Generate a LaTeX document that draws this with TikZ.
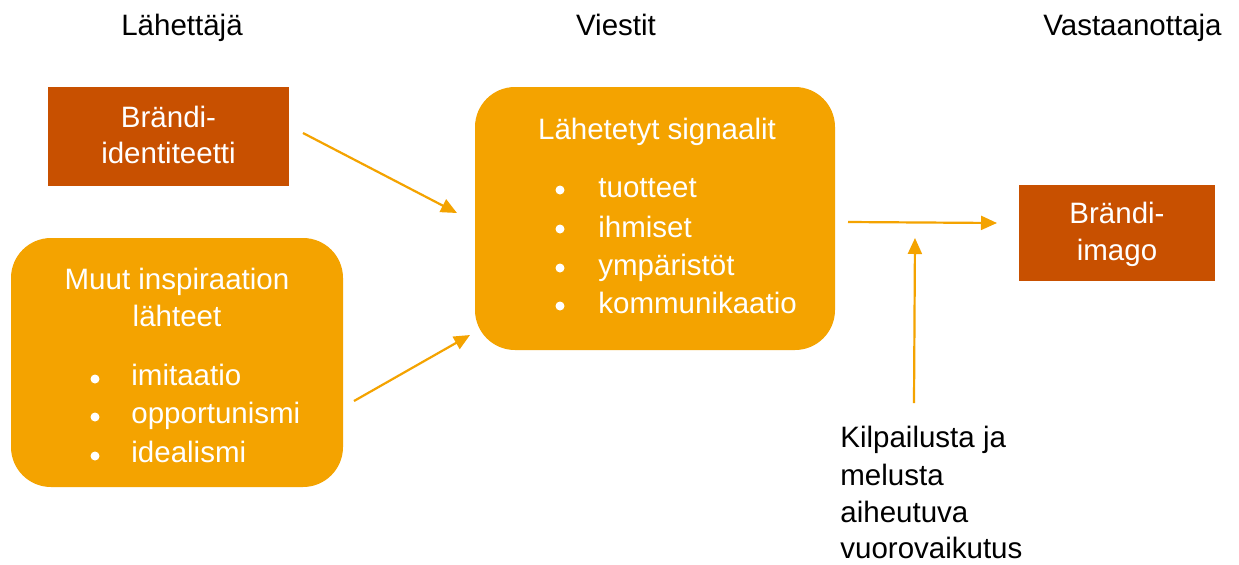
\documentclass[tikz,border=0pt]{standalone}
\usepackage{fontspec}
\setmainfont{Liberation Sans}
\usetikzlibrary{arrows.meta}
\definecolor{amber}{HTML}{F4A300}
\definecolor{rust}{HTML}{C85000}
\begin{document}
\begin{tikzpicture}[x=0.5pt,y=-0.5pt,
  every node/.style={font=\fontsize{14.75}{19}\selectfont, inner sep=0pt},
  rustbox/.style={fill=rust, draw=none, inner sep=0pt},
  amberbox/.style={fill=amber, draw=none, rounded corners=20pt},
  head/.style={anchor=base, text=black},
  wt/.style={anchor=base, text=white},
  wl/.style={anchor=base west, text=white},
  bl/.style={anchor=base west, text=black},
  dot/.style={circle, fill=white, minimum size=4.5pt, inner sep=0pt},
  arr/.style={draw=amber, line width=1.1pt, -{Triangle[length=8pt,width=7pt]}}
]
\useasboundingbox (0,0) rectangle (1239,564);
\fill[white] (0,0) rectangle (1239,564);

% headers
\node[head] (h1) at (182,35) {Lähettäjä};
\node[head] (h2) at (616,35) {Viestit};
\node[head] (h3) at (1132.5,35) {Vastaanottaja};

% Brändi-identiteetti
\node[rustbox, minimum width=120.5pt, minimum height=49.5pt] (bi) at (168.5,136.5) {};
\node[wt] (bi1) at (168.5,127) {Brändi-};
\node[wt] (bi2) at (168.5,163) {identiteetti};

% Muut inspiraation lähteet
\node[amberbox, minimum width=166pt, minimum height=124.5pt] (mi) at (177,362.5) {};
\node[wt] (mi1) at (177,289) {Muut inspiraation};
\node[wt] (mi2) at (177,326) {lähteet};
\node[dot] (md1) at (95,379) {};
\node[dot] (md2) at (95,417) {};
\node[dot] (md3) at (95,456) {};
\node[wl] (mt1) at (131,385) {imitaatio};
\node[wl] (mt2) at (131,423) {opportunismi};
\node[wl] (mt3) at (131,462) {idealismi};

% Lähetetyt signaalit
\node[amberbox, minimum width=180pt, minimum height=131.5pt] (ls) at (655,218.5) {};
\node[wt] (ls0) at (657,139) {Lähetetyt signaalit};
\node[dot] (ld1) at (560,190) {};
\node[dot] (ld2) at (560,229) {};
\node[dot] (ld3) at (560,268) {};
\node[dot] (ld4) at (560,306) {};
\node[wl] (lt1) at (598,197) {tuotteet};
\node[wl] (lt2) at (598,237) {ihmiset};
\node[wl] (lt3) at (598,275) {ympäristöt};
\node[wl] (lt4) at (598,313) {kommunikaatio};

% Brändi-imago
\node[rustbox, minimum width=98pt, minimum height=48pt] (bim) at (1117,233) {};
\node[wt] (bim1) at (1117,223) {Brändi-};
\node[wt] (bim2) at (1117,260) {imago};

% noise text
\node[bl] (k1) at (840,447) {Kilpailusta ja};
\node[bl] (k2) at (840,485) {melusta};
\node[bl] (k3) at (840,522) {aiheutuva};
\node[bl] (k4) at (840,558) {vuorovaikutus};

% connector end points
\coordinate (a1s) at (303,133);
\coordinate (a1e) at (457,213);
\coordinate (a2s) at (354,401);
\coordinate (a2e) at (470,335);
\coordinate (a3s) at (848,222);
\coordinate (a3e) at (997,223);
\coordinate (a4s) at (914,403);
\coordinate (a4e) at (915,238);

\draw[arr] (a1s) -- (a1e);
\draw[arr] (a2s) -- (a2e);
\draw[arr] (a3s) -- (a3e);
\draw[arr] (a4s) -- (a4e);
\end{tikzpicture}
\end{document}
